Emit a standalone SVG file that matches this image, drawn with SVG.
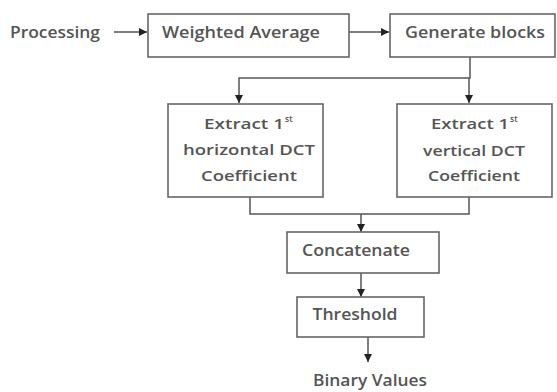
<svg xmlns="http://www.w3.org/2000/svg" width="557" height="392" viewBox="0 0 557 392">
<defs>
<style>
.box{fill:#fff;stroke:#666;stroke-width:1.6}
.ln{fill:none;stroke:#555;stroke-width:1.5}
text{font-family:"Open Sans","DejaVu Sans",sans-serif;fill:#555;font-weight:600;text-anchor:middle;dominant-baseline:central}
.t{font-size:16px}
.s{font-size:15px}
.sup{font-size:8.5px;text-anchor:start}
</style>
<marker id="ah" viewBox="0 0 10 10" refX="10" refY="5" markerWidth="8" markerHeight="8" markerUnits="userSpaceOnUse" orient="auto">
<path d="M0,0 L10,5 L0,10 z" fill="#222"/>
</marker>
</defs>
<rect width="557" height="392" fill="#fff"/>
<g id="connectors">
<line class="ln" x1="114" y1="32" x2="147" y2="32" marker-end="url(#ah)"/>
<line class="ln" x1="349" y1="32" x2="389" y2="32" marker-end="url(#ah)"/>
<polyline class="ln" points="470,57 470,78 239,78 239,103" marker-end="url(#ah)"/>
<line class="ln" x1="469" y1="78" x2="469" y2="103" marker-end="url(#ah)"/>
<polyline class="ln" points="250,197 250,214 469,214 469,197"/>
<line class="ln" x1="361" y1="214" x2="361" y2="232" marker-end="url(#ah)"/>
<line class="ln" x1="361" y1="273" x2="361" y2="297" marker-end="url(#ah)"/>
<line class="ln" x1="368" y1="337" x2="368" y2="362" marker-end="url(#ah)"/>
</g>
<g id="processing"><text class="t" x="55" y="32" textLength="90" lengthAdjust="spacingAndGlyphs">Processing</text></g>
<g id="weighted-average"><rect class="box" x="148" y="14" width="201" height="43"/><text class="t" x="241" y="32" textLength="158" lengthAdjust="spacingAndGlyphs">Weighted Average</text></g>
<g id="generate-blocks"><rect class="box" x="390" y="14" width="165" height="43"/><text class="t" x="475" y="32" textLength="140" lengthAdjust="spacingAndGlyphs">Generate blocks</text></g>
<g id="extract-horizontal"><rect class="box" x="168" y="104" width="155" height="93"/>
<text class="s" x="244" y="123" textLength="80" lengthAdjust="spacingAndGlyphs">Extract 1</text><text class="sup" x="285" y="118">st</text>
<text class="s" x="249" y="149" textLength="132" lengthAdjust="spacingAndGlyphs">horizontal DCT</text>
<text class="s" x="249" y="175" textLength="96" lengthAdjust="spacingAndGlyphs">Coefficient</text></g>
<g id="extract-vertical"><rect class="box" x="397" y="104" width="155" height="93"/>
<text class="s" x="470" y="123" textLength="78" lengthAdjust="spacingAndGlyphs">Extract 1</text><text class="sup" x="510" y="118">st</text>
<text class="s" x="474" y="150" textLength="102" lengthAdjust="spacingAndGlyphs">vertical DCT</text>
<text class="s" x="474" y="175" textLength="92" lengthAdjust="spacingAndGlyphs">Coefficient</text></g>
<g id="concatenate"><rect class="box" x="287" y="232" width="152" height="41"/><text class="t" x="356" y="250" textLength="108" lengthAdjust="spacingAndGlyphs">Concatenate</text></g>
<g id="threshold"><rect class="box" x="297" y="297" width="127" height="40"/><text class="t" x="355" y="314" textLength="85" lengthAdjust="spacingAndGlyphs">Threshold</text></g>
<g id="binary-values"><text class="t" x="370" y="380" textLength="114" lengthAdjust="spacingAndGlyphs">Binary Values</text></g>
</svg>
